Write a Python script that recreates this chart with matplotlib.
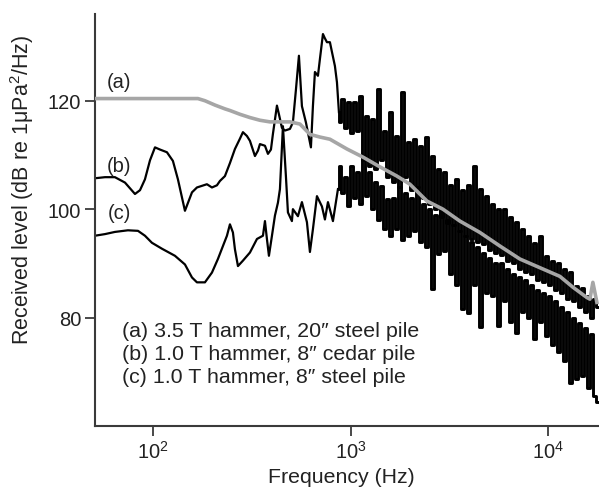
import matplotlib
matplotlib.use("Agg")
import matplotlib.pyplot as plt
from matplotlib.ticker import FixedLocator, NullLocator, LogFormatterSciNotation

plt.rcParams['font.family'] = ['Liberation Sans', 'DejaVu Sans']
plt.rcParams['mathtext.fontset'] = 'custom'
plt.rcParams['mathtext.rm'] = 'Liberation Sans'
plt.rcParams['mathtext.it'] = 'Liberation Sans:italic'

# (a) 3.5 T hammer, 20" steel pile  (grey curve)
a_freq = [50.9, 168.9, 183.3, 206.0, 231.4, 245.3, 275.6, 309.7, 348.0, 391.0,
          493.6, 554.6, 623.1, 700.1, 786.6, 958.9, 1156, 1409, 1717, 1998,
          2436, 2935, 3578, 4517, 5703, 7200, 9090, 11475, 13355, 15717,
          16277, 16852, 17660]
a_level = [120.4, 120.4, 120.0, 119.2, 118.5, 118.2, 117.5, 116.9, 116.4, 116.1,
           116.1, 115.7, 113.8, 113.3, 112.9, 111.1, 109.6, 107.8, 106.1, 104.6,
           101.5, 100.0, 97.8, 95.7, 93.2, 90.8, 89.2, 87.6, 85.6, 83.7,
           83.4, 86.5, 82.8]

# (b) 1.0 T hammer, 8" cedar pile -- low frequency part
b_freq = [50.9, 57.2, 64.2, 72.2, 81.1, 86.0, 91.1, 96.6, 102.4, 108.5,
          117.7, 126.2, 133.8, 145.2, 157.6, 167.0, 177.0, 187.6, 198.9, 210.8,
          218.3, 231.4, 245.3, 260.0, 275.6, 285.4, 299.0, 309.7, 328.3, 340.0,
          348.0, 368.9, 382.0, 395.6, 404.9, 424.2, 434.2, 449.6, 465.6, 493.6,
          511.0, 529.2, 548.1, 567.6, 594.7, 630.4, 645.2, 660.5, 684.1, 700.1,
          725.2, 742.1, 759.8, 786.6, 805.4, 833.8, 853.8, 873.6]
b_level = [105.7, 105.9, 105.9, 104.9, 102.8, 103.5, 105.5, 109.0, 111.4, 111.0,
           110.5, 108.9, 105.5, 99.7, 103.1, 104.0, 104.3, 104.6, 104.0, 104.4,
           105.2, 106.1, 108.5, 111.1, 113.0, 114.2, 113.5, 112.6, 109.8, 110.8,
           112.0, 111.7, 110.2, 111.0, 113.9, 119.1, 117.5, 115.0, 114.5, 114.8,
           116.0, 122.0, 128.3, 119.0, 116.0, 111.4, 119.0, 125.3, 124.6, 127.7,
           132.3, 131.5, 130.8, 130.8, 129.0, 126.4, 123.4, 117.9]

# (c) 1.0 T hammer, 8" steel pile -- low frequency part
c_freq = [50.9, 57.2, 64.2, 74.7, 84.0, 91.1, 98.8, 111.1, 129.2, 145.2,
          157.6, 167.0, 183.3, 198.9, 213.2, 226.1, 236.9, 245.3, 254.0, 260.0,
          269.3, 285.4, 309.7, 336.1, 360.4, 368.9, 377.5, 386.4, 400.3, 414.4,
          429.2, 439.3, 454.9, 471.1, 482.2, 505.1, 511.0, 541.8, 567.6, 601.7,
          623.1, 645.2, 676.2, 716.7, 742.1, 768.8, 814.8, 863.8]
c_level = [95.1, 95.4, 95.8, 96.1, 96.0, 95.1, 93.8, 92.7, 91.4, 89.8,
           87.4, 86.5, 86.5, 88.3, 90.8, 93.2, 95.1, 97.2, 95.7, 92.6,
           89.5, 90.5, 92.0, 94.5, 95.1, 97.8, 94.5, 91.4, 95.1, 98.8,
           101.2, 103.7, 115.3, 106.0, 99.4, 97.8, 100.0, 98.7, 101.3, 97.6,
           92.1, 96.3, 102.4, 100.5, 98.1, 101.3, 97.8, 103.7]

# high frequency (noisy) part, same frequency bins for (b) and (c)
hf_freq = [884, 915, 948, 982, 1016, 1053, 1090, 1129, 1169, 1211,
           1254, 1298, 1345, 1392, 1442, 1493, 1546, 1601, 1658, 1717,
           1778, 1842, 1907, 1975, 2045, 2118, 2193, 2272, 2352, 2436,
           2523, 2613, 2706, 2802, 2902, 3005, 3112, 3222, 3337, 3456,
           3579, 3706, 3838, 3975, 4116, 4263, 4415, 4572, 4734, 4903,
           5077, 5258, 5445, 5639, 5840, 6048, 6263, 6486, 6717, 6956,
           7204, 7460, 7726, 8001, 8285, 8580, 8886, 9202, 9530, 9869,
           10220, 10584, 10961, 11351, 11755, 12173, 12607, 13056, 13520, 14002,
           14500, 15016, 15551, 16104, 16678, 17272, 17870]
b_hf = [116.0, 120.3, 115.0, 119.7, 114.0, 119.7, 114.5, 120.9, 109.0, 117.2,
        108.0, 116.6, 107.5, 122.2, 109.0, 114.5, 106.0, 117.9, 105.0, 113.5,
        104.0, 121.6, 106.0, 112.4, 103.5, 112.9, 104.0, 111.6, 102.0, 113.3,
        101.0, 109.8, 100.0, 107.4, 98.5, 106.8, 97.5, 104.5, 97.0, 105.5,
        96.0, 103.5, 95.0, 104.5, 94.5, 108.0, 94.0, 103.7, 93.5, 102.4,
        92.5, 101.0, 92.0, 100.0, 91.5, 100.0, 90.5, 98.5, 90.0, 97.6,
        89.0, 96.3, 88.5, 95.0, 88.0, 93.8, 87.0, 95.0, 86.5, 91.3,
        86.0, 90.5, 85.0, 90.1, 84.5, 88.9, 83.5, 88.5, 83.0, 85.8,
        82.0, 85.5, 81.0, 84.0, 80.0, 83.5, 82.0]
c_hf = [107.9, 103.0, 106.0, 100.5, 108.0, 102.0, 106.8, 101.0, 109.8, 102.4,
        106.8, 100.0, 105.0, 98.0, 104.2, 96.3, 101.8, 95.0, 102.0, 96.3,
        104.0, 94.4, 103.0, 95.0, 102.0, 96.0, 104.0, 94.0, 101.0, 93.0,
        100.0, 85.2, 99.0, 91.7, 100.0, 92.3, 98.0, 88.0, 97.0, 86.0,
        96.0, 81.5, 95.0, 80.9, 94.0, 86.0, 93.0, 78.2, 92.0, 84.5,
        91.0, 84.0, 90.0, 78.4, 90.0, 83.0, 89.0, 79.1, 88.0, 77.2,
        87.5, 81.0, 87.0, 80.0, 86.0, 76.0, 85.0, 79.1, 84.5, 76.6,
        84.0, 75.0, 83.0, 73.6, 82.0, 72.0, 81.0, 68.0, 80.0, 68.6,
        79.0, 69.2, 78.0, 67.0, 77.0, 65.6, 64.4]

legend_lines = ['(a) 3.5 T hammer, 20\u2033 steel pile',
                '(b) 1.0 T hammer, 8\u2033 cedar pile',
                '(c) 1.0 T hammer, 8\u2033 steel pile']

fig = plt.figure(figsize=(5.99, 4.89), dpi=100)
ax = fig.add_axes([95 / 599, 62 / 489, 504 / 599, 412 / 489])

# smooth low-frequency parts
ax.plot(b_freq, b_level, color='black', lw=1.6, zorder=2)
ax.plot(c_freq, c_level, color='black', lw=1.6, zorder=2)
# noisy high-frequency parts drawn as steps (vertical strokes)
ax.plot([b_freq[-1]] + hf_freq, [b_level[-1]] + b_hf, color='black', lw=2.1,
        drawstyle='steps-mid', zorder=2)
ax.plot([c_freq[-1]] + hf_freq, [c_level[-1]] + c_hf, color='black', lw=2.1,
        drawstyle='steps-mid', zorder=2)
ax.plot(a_freq, a_level, color='#a6a6a6', lw=2.6, zorder=3)

ax.set_xscale('log')
ax.set_xlim(50.9, 18100)
ax.set_ylim(60, 136)
ax.xaxis.set_major_locator(FixedLocator([100, 1000, 10000]))
ax.xaxis.set_major_formatter(LogFormatterSciNotation())
ax.xaxis.set_minor_locator(NullLocator())
ax.yaxis.set_major_locator(FixedLocator([80, 100, 120]))

for s in ['top', 'right']:
    ax.spines[s].set_visible(False)
for s in ['left', 'bottom']:
    ax.spines[s].set_color('#3a3a3a')
    ax.spines[s].set_linewidth(1.5)
ax.tick_params(direction='out', length=7, width=1.3, color='#3a3a3a',
               labelsize=14.5, labelcolor='#222222', pad=3)

ax.set_xlabel('Frequency (Hz)', fontsize=15.3, color='#222222')
ax.set_ylabel('Received level (dB re 1\u03bcPa$^2$/Hz)', fontsize=15.5, color='#222222')
ax.xaxis.set_label_coords(0.489, -0.1)
ax.yaxis.set_label_coords(-0.117, 0.575)

ax.text(67.3, 123.5, '(a)', fontsize=14.5, ha='center', va='center', color='#222222')
ax.text(67.3, 108.1, '(b)', fontsize=14.5, ha='center', va='center', color='#222222')
ax.text(67.3, 99.3, '(c)', fontsize=14.5, ha='center', va='center', color='#222222')

for i, line in enumerate(legend_lines):
    ax.text(0.0536, 0.2306 - i * 0.0558, line, transform=ax.transAxes,
            fontsize=15.4, ha='left', va='center', color='#222222')

fig.savefig('out.png', dpi=100)
